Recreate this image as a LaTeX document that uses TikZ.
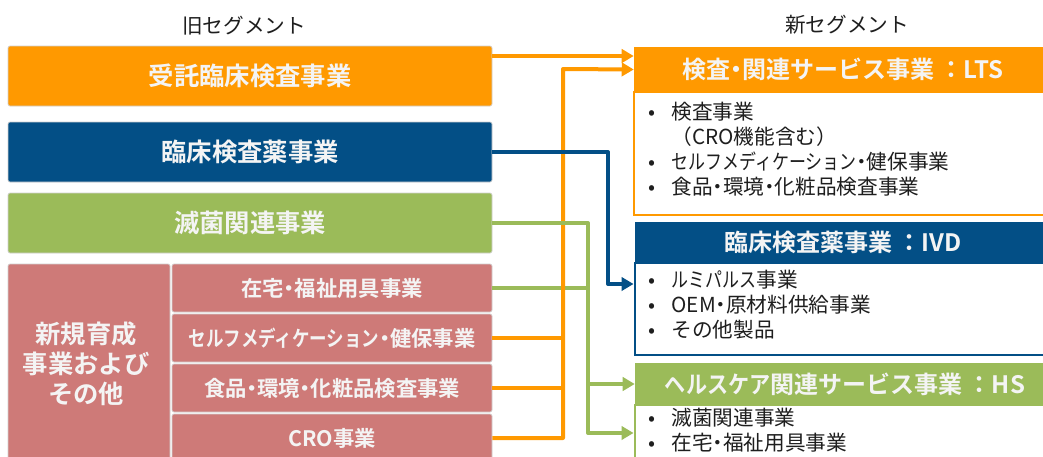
\documentclass[tikz,border=0pt]{standalone}
\usepackage{fontspec}
\usepackage{graphicx}
\setmainfont{Noto Sans CJK JP}[BoldFont={Noto Sans CJK JP Bold}]
\usetikzlibrary{fit,arrows.meta}
\definecolor{orng}{RGB}{255,153,0}
\definecolor{blu}{RGB}{3,79,134}
\definecolor{grn}{RGB}{155,187,89}
\definecolor{rdd}{RGB}{206,122,120}
\definecolor{offw}{RGB}{244,244,244}
\definecolor{txt}{RGB}{30,30,30}
\tikzset{
  oldbox/.style={fit={#1}, inner sep=0pt, rounded corners=1.5pt, draw=black!18, line width=0.5pt},
  subbox/.style={fit={#1}, inner sep=0pt, rounded corners=1.5pt, draw=black!18, line width=0.5pt, fill=rdd},
  bigtxt/.style={text=offw, inner sep=0pt, font=\bfseries\fontsize{19}{22.5}\selectfont, align=center},
  headtxt/.style={text=offw, inner sep=0pt, font=\bfseries\fontsize{18}{22}\selectfont},
  subtxt/.style={text=offw, inner sep=0pt, font=\bfseries\fontsize{16}{18}\selectfont},
  headbox/.style={fit={#1}, inner sep=0pt},
  bodybox/.style={fit={#1}, inner sep=0pt, fill=white, line width=2.2pt},
  bullets/.style={anchor=north west, inner sep=0pt, align=left, text=txt, font=\fontsize{15.5}{18.75}\selectfont},
  title/.style={text=txt, font=\fontsize{15.5}{18}\selectfont},
  conn/.style={line width=3pt, line join=round},
  tip/.style={-{Triangle[length=9pt,width=10pt]}}
}
\newcommand{\bl}{\makebox[17.5pt][l]{•}}
\newcommand{\nb}{\makebox[17.5pt][l]{}}
\newcommand{\md}{\makebox[0.5em][c]{・}}
\newcommand{\kn}[1]{\scalebox{0.82}[1]{#1}}
\begin{document}
\begin{tikzpicture}[x=0.75pt,y=-0.75pt]
\clip (0,0) rectangle (1043,457);
\fill[white] (0,0) rectangle (1043,457);
% titles
\node[title] (oldt) at (244,26) {旧セグメント};
\node[title] (newt) at (847,25) {新セグメント};
% old segments
\node[oldbox={(8,46)(492,106)}, fill=orng] (jutaku) {};
\node[bigtxt] (jutakut) at (jutaku.center) {受託臨床検査事業};
\node[oldbox={(8,122)(492,182)}, fill=blu] (rinsho) {};
\node[bigtxt] (rinshot) at (rinsho.center) {臨床検査薬事業};
\node[oldbox={(8,193)(492,253)}, fill=grn] (mekkin) {};
\node[bigtxt] (mekkint) at (mekkin.center) {滅菌関連事業};
\node[oldbox={(8,264)(170,462)}, fill=rdd] (shinki) {};
\node[bigtxt] (shinkit) at (86,364) {新規育成\\事業および\\その他};
\node[subbox={(172,264)(492,312)}] (zaitaku) {};
\node[subtxt] (zaitakut) at (zaitaku.center) {在宅\md 福祉用具事業};
\node[subbox={(172,314)(492,362)}] (self) {};
\node[subtxt] (selft) at (self.center) {\kn{セルフメディケーション}\md 健保事業};
\node[subbox={(172,364)(492,412)}] (food) {};
\node[subtxt] (foodt) at (food.center) {食品\md 環境\md 化粧品検査事業};
\node[subbox={(172,414)(492,462)}] (cro) {};
\node[subtxt] (crot) at (cro.center) {CRO事業};
% new segments
\node[bodybox={(634,92)(1060,215)}, draw=orng] (ltsb) {};
\node[headbox={(634,47)(1060,92)}, fill=orng] (ltsh) {};
\node[headtxt] (ltst) at (843,69) {検査\md 関連サービス事業 ：LTS};
\node[bullets] (ltsl) at (648,102) {\bl 検査事業\\\nb （CRO機能含む）\\\bl \kn{セルフメディケーション}\md 健保事業\\\bl 食品\md 環境\md 化粧品検査事業};
\node[bodybox={(635,263)(1060,355)}, draw=blu] (ivdb) {};
\node[headbox={(635,222)(1060,263)}, fill=blu] (ivdh) {};
\node[headtxt] (ivdt) at (843,242) {臨床検査薬事業 ：IVD};
\node[bullets] (ivdl) at (648,270) {\bl \kn{ルミパルス}事業\\\bl OEM\md 原材料供給事業\\\bl その他製品};
\node[bodybox={(635,405)(1060,480)}, draw=grn] (hsb) {};
\node[headbox={(635,363)(1060,405)}, fill=grn] (hsh) {};
\node[headtxt] (hst) at (845,384) {\scalebox{0.88}[1]{ヘルスケア}関連サービス事業 ：HS};
\node[bullets] (hsl) at (648,408) {\bl 滅菌関連事業\\\bl 在宅\md 福祉用具事業};
% junction coordinates
\coordinate (ov) at (563,69);
\coordinate (bv) at (608,284);
\coordinate (gv) at (588,433);
% connectors
\draw[conn, grn] (zaitaku.east) -- (zaitaku.east -| gv);
\draw[conn, orng, tip] ([yshift=15pt]jutaku.east) -- ([yshift=15pt]jutaku.east -| ltsh.west);
\draw[conn, orng] (self.east) -- (self.east -| ov);
\draw[conn, orng] (food.east) -- (food.east -| ov);
\draw[conn, orng, tip] (cro.east) -| (ov) -- (ltsh.west);
\draw[conn, blu, tip] (rinsho.east) -| (bv) -- (bv -| ivdb.west);
\draw[conn, grn, tip] (mekkin.east) -| (gv) -- (gv -| hsb.west);
\draw[conn, grn, tip] (gv |- hsh.west) -- (hsh.west);
\end{tikzpicture}
\end{document}
